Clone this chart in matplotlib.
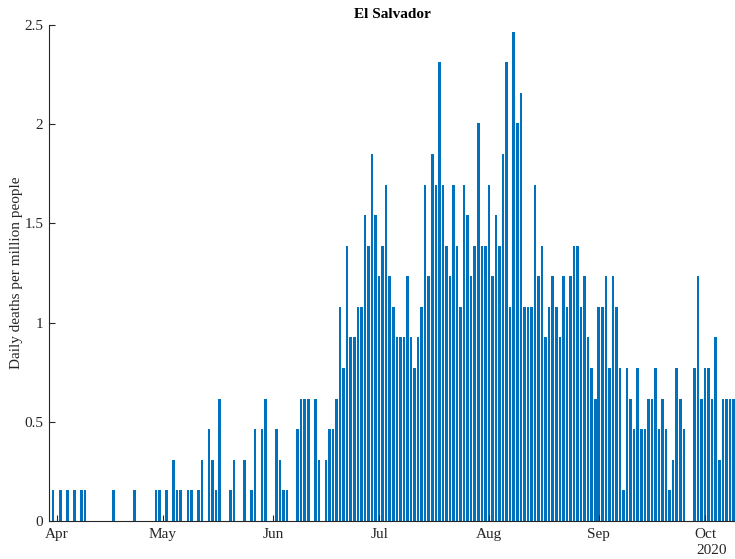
import matplotlib.pyplot as plt
import matplotlib.dates as mdates
import numpy as np
import pandas as pd

plt.rcParams['font.family'] = ['Liberation Serif', 'DejaVu Serif']

# daily deaths (one bar step = one death), Mar 31 .. Oct 9 2020
deaths_mar = [1]
deaths_apr = [0, 1, 0, 1, 0, 1, 0, 1, 1, 0, 0, 0, 0, 0, 0, 0, 1, 0, 0, 0, 0, 0, 1, 0, 0, 0, 0, 0, 1, 1]
deaths_may = [0, 1, 0, 2, 1, 1, 0, 1, 1, 0, 1, 2, 0, 3, 2, 1, 4, 0, 0, 1, 2, 0, 0, 2, 0, 1, 3, 0, 3, 4, 0]
deaths_jun = [0, 3, 2, 1, 1, 0, 0, 3, 4, 4, 4, 0, 4, 2, 0, 2, 3, 3, 4, 7, 5, 9, 6, 6, 7, 7, 10, 9, 12, 10]
deaths_jul = [8, 9, 11, 8, 7, 6, 6, 6, 8, 6, 5, 6, 7, 11, 8, 12, 11, 15, 11, 9, 8, 11, 9, 7, 11, 10, 8, 9, 13, 9, 9]
deaths_aug = [11, 8, 10, 9, 12, 15, 7, 16, 13, 14, 7, 7, 7, 11, 8, 9, 6, 7, 8, 7, 6, 8, 7, 8, 9, 9, 7, 8, 6, 5, 4]
deaths_sep = [7, 7, 8, 5, 8, 7, 5, 1, 5, 4, 3, 5, 3, 3, 4, 4, 5, 3, 4, 3, 1, 2, 5, 4, 3, 0, 0, 5, 8, 4]
deaths_oct = [5, 5, 4, 6, 2, 4, 4, 4, 4]

population_millions = 6.486
start_date = '2020-03-31'
month_ticks = ['2020-04-01', '2020-05-01', '2020-06-01', '2020-07-01',
               '2020-08-01', '2020-09-01', '2020-10-01']
month_labels = ['Apr', 'May', 'Jun', 'Jul', 'Aug', 'Sep', 'Oct']

deaths = np.array(deaths_mar + deaths_apr + deaths_may + deaths_jun +
                  deaths_jul + deaths_aug + deaths_sep + deaths_oct, dtype=float)
per_million = deaths / population_millions
dates = pd.date_range(start_date, periods=len(deaths))

fig = plt.figure(figsize=(7.35, 5.59), dpi=100)
ax = fig.add_axes([49 / 735, 38 / 559, 686 / 735, 496 / 559])

ax.bar(dates, per_million, width=0.72, color='#0072BD', linewidth=0)

apr1 = pd.Timestamp('2020-04-01')
ax.set_xlim(apr1 - pd.Timedelta(days=2.17), apr1 + pd.Timedelta(days=191.45))
ax.set_ylim(0, 2.5)

ticks = pd.to_datetime(month_ticks)
ax.set_xticks(ticks)
ax.set_xticklabels(month_labels)
ax.set_yticks([0, 0.5, 1, 1.5, 2, 2.5])
ax.set_yticklabels(['0', '0.5', '1', '1.5', '2', '2.5'])

axis_col = '#262626'
for side in ['top', 'right']:
    ax.spines[side].set_visible(False)
for side in ['left', 'bottom']:
    ax.spines[side].set_color(axis_col)
    ax.spines[side].set_linewidth(0.8)
ax.tick_params(direction='in', length=4.5, width=0.8, color=axis_col,
               labelcolor=axis_col, labelsize=11)
ax.tick_params(axis='x', pad=5)
ax.tick_params(axis='y', pad=4)

ax.annotate('2020', xy=(mdates.date2num(ticks[-1]), 0), xycoords=('data', 'axes fraction'),
            xytext=(5, -21.5), textcoords='offset points', ha='center', va='center',
            fontsize=11, color=axis_col)

ax.set_ylabel('Daily deaths per million people', fontsize=11, color=axis_col, labelpad=1)
ax.set_title('El Salvador', fontsize=11, fontweight='bold', pad=5)

fig.savefig('out.png', dpi=100)
